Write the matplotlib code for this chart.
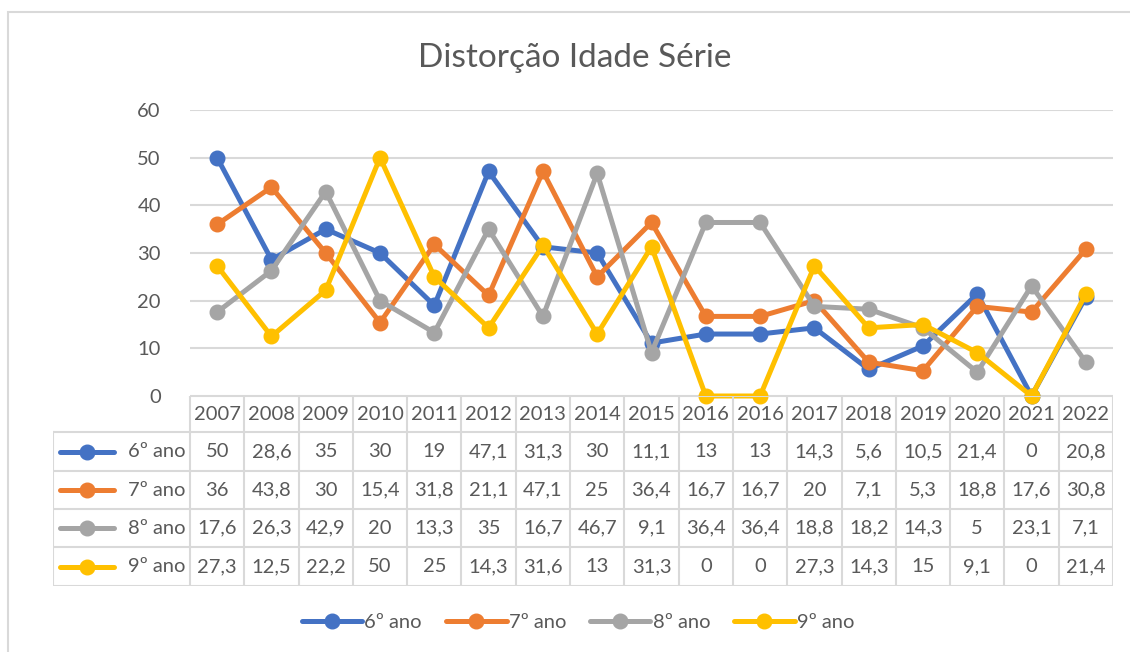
import matplotlib.pyplot as plt
from matplotlib.lines import Line2D
from matplotlib.patches import Rectangle

plt.rcParams['font.family'] = ['Lato', 'DejaVu Sans']

years = ['2007', '2008', '2009', '2010', '2011', '2012', '2013', '2014', '2015',
         '2016', '2016', '2017', '2018', '2019', '2020', '2021', '2022']
series_names = ['6º ano', '7º ano', '8º ano', '9º ano']
ano6 = [50, 28.6, 35, 30, 19, 47.1, 31.3, 30, 11.1, 13, 13, 14.3, 5.6, 10.5, 21.4, 0, 20.8]
ano7 = [36, 43.8, 30, 15.4, 31.8, 21.1, 47.1, 25, 36.4, 16.7, 16.7, 20, 7.1, 5.3, 18.8, 17.6, 30.8]
ano8 = [17.6, 26.3, 42.9, 20, 13.3, 35, 16.7, 46.7, 9.1, 36.4, 36.4, 18.8, 18.2, 14.3, 5, 23.1, 7.1]
ano9 = [27.3, 12.5, 22.2, 50, 25, 14.3, 31.6, 13, 31.3, 0, 0, 27.3, 14.3, 15, 9.1, 0, 21.4]
colors = ['#4472C4', '#ED7D31', '#A5A5A5', '#FFC000']

W, H = 1130, 652
text_col = '#595959'
grid_col = '#D9D9D9'
fs = 14.5

fig = plt.figure(figsize=(W / 100, H / 100), dpi=100)

# chart frame (cut off at right and bottom in the screenshot)
fig.patches.append(Rectangle((8 / W, -0.1), 1.2, 1 - 12 / H + 0.1, transform=fig.transFigure,
                             fill=False, edgecolor=grid_col, lw=1.5))

# plot area in pixel coordinates
x0, x1 = 190, 1113
y_top, y_bot = 110, 396
ax = fig.add_axes([x0 / W, 1 - y_bot / H, (x1 - x0) / W, (y_bot - y_top) / H])

n = len(years)
pos = list(range(n))
for name, vals, c in zip(series_names, [ano6, ano7, ano8, ano9], colors):
    ax.plot(pos, vals, color=c, lw=3.6, marker='o', ms=10.5, solid_capstyle='round',
            clip_on=False, label=name)

ax.set_xlim(-0.5, n - 0.5)
ax.set_ylim(0, 60)
ax.set_yticks(range(0, 61, 10))
ax.yaxis.grid(True, color=grid_col, lw=1.5)
ax.set_axisbelow(True)
ax.tick_params(axis='y', length=0, pad=21, labelsize=fs, labelcolor=text_col)
ax.set_xticks([])
for s in ax.spines.values():
    s.set_visible(False)

fig.text(575 / W, 1 - 58 / H, 'Distorção Idade Série', ha='center', va='center',
         fontsize=24, color=text_col)

# data table below the plot
col_w = (x1 - x0) / n
tx0 = 53
tax = fig.add_axes([tx0 / W, 1 - 586 / H, (x1 - tx0) / W, (586 - y_bot) / H])
left_edge = -0.5 - (x0 - tx0) / col_w
tax.set_xlim(left_edge, n - 0.5)
row_edges = [396, 432, 471, 509, 547, 586]
tax.set_ylim(586, 396)
tax.axis('off')

lc = dict(color=grid_col, lw=1.5)
# horizontal lines
tax.plot([-0.5, n - 0.5], [row_edges[0]] * 2, **lc)
for y in row_edges[1:]:
    tax.plot([left_edge, n - 0.5], [y, y], **lc)
# vertical lines
for i in range(n + 1):
    tax.plot([i - 0.5, i - 0.5], [row_edges[0], row_edges[-1]], **lc)
tax.plot([left_edge, left_edge], [row_edges[1], row_edges[-1]], **lc)

for i, yr in enumerate(years):
    tax.text(i, (row_edges[0] + row_edges[1]) / 2 + 1, yr, ha='center', va='center',
             fontsize=fs, color=text_col)
for r, (name, vals, c) in enumerate(zip(series_names, [ano6, ano7, ano8, ano9], colors)):
    yc = (row_edges[r + 1] + row_edges[r + 2]) / 2
    for i, v in enumerate(vals):
        lab = ('%g' % v).replace('.', ',')
        tax.text(i, yc, lab, ha='center', va='center', fontsize=fs, color=text_col)
    tax.plot([left_edge + 0.12, left_edge + 1.12], [yc, yc], color=c, lw=3.6,
             solid_capstyle='round')
    tax.plot([left_edge + 0.62], [yc], 'o', color=c, ms=10.5)
    tax.text(-0.58, yc, name, ha='right', va='center', fontsize=fs, color=text_col)

handles = [Line2D([], [], color=c, lw=3.6, marker='o', ms=10.5, solid_capstyle='round')
           for c in colors]
fig.legend(handles, series_names, loc='center', bbox_to_anchor=(578 / W, 1 - 622 / H),
           ncol=4, frameon=False, fontsize=fs, labelcolor=text_col, handlelength=3.0,
           handletextpad=0.1, columnspacing=1.2)

fig.savefig('out.png', dpi=100)
